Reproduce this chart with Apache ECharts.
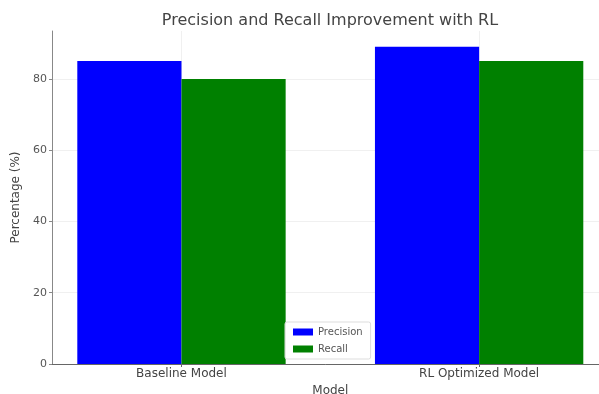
<!DOCTYPE html>
<html>
<head>
<meta charset="utf-8">
<script src="https://cdn.jsdelivr.net/npm/echarts@6/dist/echarts.min.js"></script>
<style>
  html, body { margin: 0; padding: 0; background: #fff; }
  #chart { width: 599px; height: 394px; }
</style>
</head>
<body>
<div id="chart"></div>
<script>
// Model comparison data
const models = ['Baseline Model', 'RL Optimized Model'];
const precision = [85, 89];
const recall = [80, 85];
const yTicks = [0, 20, 40, 60, 80];

const BAR_W = 0.35;           // bar width in category units
const yMax = Math.max(...precision, ...recall) * 1.05;
const span = models.length - 1 + 2 * BAR_W;
const xMin = -BAR_W - 0.05 * span;
const xMax = models.length - 1 + BAR_W + 0.05 * span;

const gridLeft = 52, gridTop = 31, gridBottom = 30;
const plotRightPx = 608.6;
const chartW = 599;
const unitPx = (plotRightPx - gridLeft) / (xMax - xMin);
const barPx = BAR_W * unitPx;

const chart = echarts.init(document.getElementById('chart'), null, { renderer: 'canvas' });

const font = 'DejaVu Sans';
chart.setOption({
  animation: false,
  backgroundColor: '#ffffff',
  textStyle: { fontFamily: font },
  title: {
    text: 'Precision and Recall Improvement with RL',
    left: 325, top: 8, textAlign: 'center',
    textStyle: { fontFamily: font, fontSize: 16, fontWeight: 'normal', color: '#444' }
  },
  grid: {
    left: gridLeft, top: gridTop, bottom: gridBottom, right: chartW - plotRightPx,
    containLabel: false, outerBoundsMode: 'none'
  },
  legend: {
    orient: 'vertical',
    left: 285, top: 322,
    itemWidth: 20, itemHeight: 7, itemGap: 7,
    padding: [5, 8, 5, 8],
    borderColor: '#ddd', borderWidth: 1, borderRadius: 2,
    backgroundColor: 'rgba(255,255,255,0.85)',
    textStyle: { fontFamily: font, fontSize: 10, color: '#555' },
    data: [
      { name: 'Precision', icon: 'rect' },
      { name: 'Recall', icon: 'rect' }
    ]
  },
  xAxis: {
    type: 'value',
    min: xMin, max: xMax,
    name: 'Model', nameLocation: 'middle', nameGap: 18,
    nameTextStyle: { fontFamily: font, fontSize: 12, color: '#444' },
    axisLine: { show: true, onZero: false, lineStyle: { color: '#666', width: 1 } },
    axisTick: { show: true, customValues: models.map((m, i) => i), length: 3, lineStyle: { color: '#666' } },
    axisLabel: {
      customValues: models.map((m, i) => i),
      formatter: v => models[Math.round(v)] ?? '',
      fontFamily: font, fontSize: 12, color: '#444', margin: 4
    },
    splitLine: { show: true, lineStyle: { color: '#f0f0f0', width: 1 } }
  },
  yAxis: {
    type: 'value',
    min: 0, max: yMax,
    name: 'Percentage (%)', nameLocation: 'middle', nameGap: 23, nameRotate: 90,
    nameTextStyle: { fontFamily: font, fontSize: 12, color: '#444' },
    axisLine: { show: true, onZero: false, lineStyle: { color: '#888', width: 1 } },
    axisTick: { show: true, customValues: yTicks, length: 3, lineStyle: { color: '#888' } },
    axisLabel: { customValues: yTicks, fontFamily: font, fontSize: 11, color: '#555', margin: 5 },
    splitLine: { show: true, lineStyle: { color: '#f0f0f0', width: 1 } }
  },
  series: [
    {
      name: 'Precision', type: 'bar',
      data: precision.map((v, i) => [i, v]),
      barWidth: barPx, barGap: '0%',
      itemStyle: { color: '#0000ff' }
    },
    {
      name: 'Recall', type: 'bar',
      data: recall.map((v, i) => [i, v]),
      barWidth: barPx, barGap: '0%',
      itemStyle: { color: '#008000' }
    }
  ]
});
</script>
</body>
</html>
